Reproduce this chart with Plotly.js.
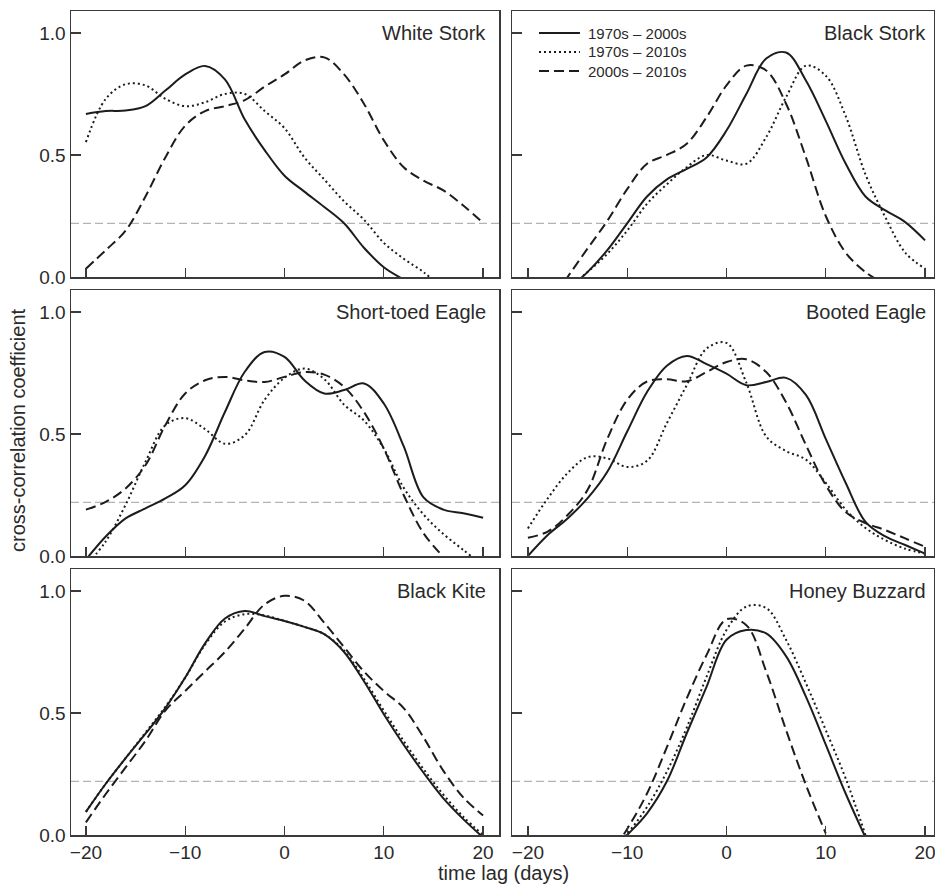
<!DOCTYPE html>
<html>
<head>
<meta charset="utf-8">
<script src="https://cdn.plot.ly/plotly-3.0.1.min.js"></script>
<style>html,body{margin:0;padding:0;background:#fff;}#chart{width:935px;height:887px;}</style>
</head>
<body>
<div id="chart"></div>
<script>
// time lag (days)
var lags = [-20,-18,-16,-14,-12,-10,-8,-6,-4,-2,0,2,4,6,8,10,12,14,16,18,20];
var seriesNames = ['1970s \u2013 2000s', '1970s \u2013 2010s', '2000s \u2013 2010s'];
var species = ['White Stork', 'Black Stork', 'Short-toed Eagle', 'Booted Eagle', 'Black Kite', 'Honey Buzzard'];
var tickValsX = [-20, -10, 0, 10, 20];
var tickValsY = [0, 0.5, 1.0];
var threshold = 0.22;

// White Stork
var whiteStork7000 = [0.668,0.68,0.682,0.70,0.764,0.83,0.865,0.81,0.645,0.52,0.415,0.35,0.287,0.22,0.12,0.04,-0.01,null,null,null,null];
var whiteStork7010 = [0.553,0.73,0.79,0.785,0.73,0.70,0.716,0.75,0.75,0.68,0.61,0.49,0.40,0.31,0.235,0.14,0.075,0.02,-0.05,null,null];
var whiteStork0010 = [0.034,0.11,0.19,0.33,0.49,0.62,0.68,0.70,0.725,0.78,0.83,0.887,0.90,0.83,0.71,0.56,0.45,0.395,0.355,0.293,0.222];

// Black Stork
var blackStork7000 = [null,null,-0.05,0.02,0.11,0.22,0.33,0.40,0.443,0.49,0.60,0.75,0.895,0.92,0.805,0.64,0.465,0.33,0.273,0.225,0.15];
var blackStork7010 = [null,null,-0.05,0.02,0.095,0.19,0.30,0.38,0.45,0.50,0.477,0.464,0.573,0.737,0.866,0.825,0.66,0.42,0.245,0.10,0.034];
var blackStork0010 = [null,-0.12,0.0,0.116,0.23,0.36,0.464,0.50,0.546,0.655,0.785,0.866,0.846,0.71,0.49,0.25,0.10,0.02,-0.03,null,null];

// Short-toed Eagle
var shortToed7000 = [-0.015,0.08,0.154,0.195,0.236,0.29,0.41,0.59,0.755,0.836,0.816,0.72,0.666,0.68,0.707,0.625,0.45,0.24,0.19,0.175,0.157];
var shortToed7010 = [-0.04,0.06,0.21,0.386,0.536,0.565,0.52,0.46,0.495,0.64,0.73,0.768,0.725,0.62,0.555,0.44,0.28,0.17,0.09,0.025,-0.04];
var shortToed0010 = [0.19,0.222,0.277,0.372,0.536,0.666,0.72,0.734,0.72,0.713,0.734,0.754,0.743,0.693,0.59,0.44,0.25,0.093,-0.003,null,null];

// Booted Eagle
var booted7000 = [0.0,0.086,0.154,0.236,0.345,0.51,0.672,0.78,0.82,0.786,0.747,0.70,0.713,0.73,0.66,0.48,0.30,0.14,0.08,0.045,0.01];
var booted7010 = [0.113,0.236,0.34,0.405,0.40,0.365,0.39,0.545,0.70,0.85,0.873,0.71,0.49,0.43,0.395,0.30,0.19,0.115,0.065,0.03,0.01];
var booted0010 = [0.075,0.10,0.168,0.27,0.48,0.64,0.715,0.724,0.716,0.754,0.795,0.806,0.754,0.63,0.455,0.29,0.18,0.135,0.106,0.072,0.038];

// Black Kite
var blackKite7000 = [0.095,0.21,0.315,0.415,0.52,0.645,0.785,0.887,0.918,0.897,0.877,0.853,0.823,0.75,0.63,0.495,0.37,0.255,0.15,0.065,-0.01];
var blackKite7010 = [0.095,0.21,0.315,0.42,0.525,0.645,0.78,0.875,0.905,0.90,0.877,0.853,0.823,0.755,0.64,0.51,0.385,0.27,0.165,0.075,0.0];
var blackKite0010 = [0.052,0.168,0.277,0.386,0.51,0.59,0.67,0.75,0.846,0.945,0.98,0.96,0.87,0.77,0.67,0.59,0.52,0.40,0.263,0.154,0.08];

// Honey Buzzard
var honey7000 = [null,null,null,null,-0.08,0.0,0.089,0.22,0.417,0.608,0.80,0.84,0.826,0.733,0.567,0.37,0.17,-0.01,null,null,null];
var honey7010 = [null,null,null,null,-0.08,0.005,0.115,0.26,0.44,0.649,0.84,0.936,0.93,0.80,0.622,0.43,0.232,0.0,null,null,null];
var honey0010 = [null,null,null,null,-0.1,0.025,0.17,0.36,0.56,0.738,0.884,0.86,0.67,0.43,0.205,0.007,null,null,null,null,null];

var panelData = [
  [whiteStork7000, whiteStork7010, whiteStork0010],
  [blackStork7000, blackStork7010, blackStork0010],
  [shortToed7000, shortToed7010, shortToed0010],
  [booted7000, booted7010, booted0010],
  [blackKite7000, blackKite7010, blackKite0010],
  [honey7000, honey7010, honey0010]
];

var W = 935, H = 887;
var dashes = ['solid', '2px,3px', '10px,5px'];
var ink = '#1c1c1c';
var frame = '#3a3a3a';
var txt = '#2a2a2a';
var fontFam = 'Liberation Sans, Arial, Helvetica, sans-serif';
var colPx = [[71, 499], [512, 934]];
var rowPx = [[11, 277], [290, 556], [569, 835]];
var xRanges = [[-21.5, 21.6], [-21.6, 20.9]];

var traces = [];
var layout = {
  width: W, height: H,
  margin: {l: 0, r: 0, t: 0, b: 0},
  paper_bgcolor: '#fff', plot_bgcolor: '#fff',
  font: {family: fontFam, color: txt, size: 19},
  showlegend: false,
  shapes: [], annotations: []
};

for (var p = 0; p < 6; p++) {
  var col = p % 2, row = Math.floor(p / 2);
  var n = p + 1;
  var xa = 'x' + (n === 1 ? '' : n), ya = 'y' + (n === 1 ? '' : n);
  var xKey = 'xaxis' + (n === 1 ? '' : n), yKey = 'yaxis' + (n === 1 ? '' : n);
  layout[xKey] = {
    domain: [colPx[col][0] / W, colPx[col][1] / W],
    anchor: ya, range: xRanges[col],
    showline: true, mirror: true, linecolor: frame, linewidth: 1.5,
    ticks: 'inside', ticklen: 9, tickwidth: 1.3, tickcolor: frame,
    tickvals: tickValsX, showticklabels: row === 2,
    ticklabeloverflow: 'allow',
    tickfont: {family: fontFam, size: 19, color: txt},
    showgrid: false, zeroline: false, fixedrange: true
  };
  layout[yKey] = {
    domain: [1 - rowPx[row][1] / H, 1 - rowPx[row][0] / H],
    anchor: xa, range: [0, 1.09],
    showline: true, mirror: true, linecolor: frame, linewidth: 1.5,
    ticks: 'inside', ticklen: 10, tickwidth: 1.3, tickcolor: frame,
    tickvals: tickValsY, tickformat: '.1f', showticklabels: col === 0,
    ticklabeloverflow: 'allow',
    tickfont: {family: fontFam, size: 19, color: txt},
    showgrid: false, zeroline: false, fixedrange: true
  };
  layout.shapes.push({
    type: 'line', layer: 'below',
    xref: xa + ' domain', x0: 0, x1: 1,
    yref: ya, y0: threshold, y1: threshold,
    line: {color: '#b3b3b3', width: 1.2, dash: '8px,4px'}
  });
  layout.annotations.push({
    xref: xa + ' domain', x: col === 0 ? 0.975 : 0.986, xanchor: 'right',
    yref: ya, y: 1.0, yanchor: 'middle',
    text: species[p], showarrow: false,
    font: {family: fontFam, size: 20, color: txt}
  });
  for (var s = 0; s < 3; s++) {
    traces.push({
      type: 'scatter', mode: 'lines',
      x: lags, y: panelData[p][s],
      xaxis: xa, yaxis: ya,
      name: seriesNames[s],
      connectgaps: false,
      line: {color: ink, width: 2, dash: dashes[s], shape: 'spline', smoothing: 1},
      hoverinfo: 'skip'
    });
  }
}

// legend (drawn in the Black Stork panel)
var legendRows = [0.917, 0.846, 0.774];
for (var k = 0; k < 3; k++) {
  layout.shapes.push({
    type: 'line', xref: 'x2 domain', yref: 'y2 domain',
    x0: 0.064, x1: 0.161, y0: legendRows[k], y1: legendRows[k],
    line: {color: ink, width: 2, dash: dashes[k]}
  });
  layout.annotations.push({
    xref: 'x2 domain', yref: 'y2 domain', x: 0.176, y: legendRows[k],
    xanchor: 'left', yanchor: 'middle', showarrow: false,
    text: seriesNames[k],
    font: {family: fontFam, size: 15, color: txt}
  });
}

layout.annotations.push({
  xref: 'paper', yref: 'paper', x: 18 / W, y: 1 - 430 / H,
  xanchor: 'center', yanchor: 'middle', textangle: -90,
  text: 'cross-correlation coefficient', showarrow: false,
  font: {family: fontFam, size: 20, color: txt}
});
layout.annotations.push({
  xref: 'paper', yref: 'paper', x: 503 / W, y: 1 - 873 / H,
  xanchor: 'center', yanchor: 'middle',
  text: 'time lag (days)', showarrow: false,
  font: {family: fontFam, size: 20, color: txt}
});

Plotly.newPlot('chart', traces, layout, {displayModeBar: false, staticPlot: true});
</script>
</body>
</html>
